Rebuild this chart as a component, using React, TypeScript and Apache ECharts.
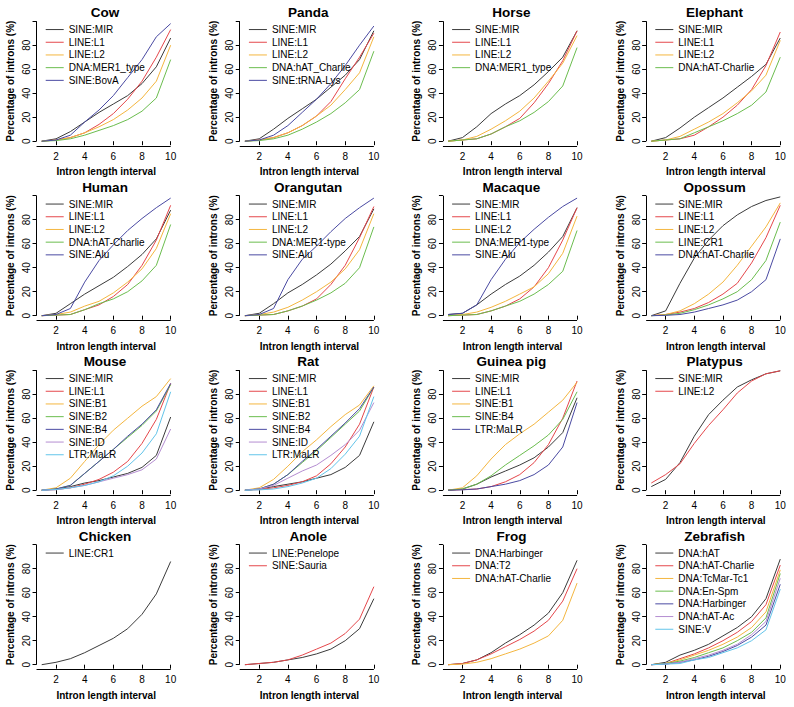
import { useEffect, useRef } from "react";
import * as echarts from "echarts";

// ---------- data ----------
const intervals = [1, 2, 3, 4, 5, 6, 7, 8, 9, 10];
const xTicks = [2, 4, 6, 8, 10];
const yTicks = [0, 20, 40, 60, 80, 100];
const yTickLabels = [0, 20, 40, 60, 80];

const cowNames = ["SINE:MIR", "LINE:L1", "LINE:L2", "DNA:MER1_type", "SINE:BovA"];
const cowValues = [
  [0, 2, 8, 16, 24, 31, 38, 48, 62, 86],
  [0, 1, 3, 7, 14, 23, 35, 50, 70, 93],
  [0, 1, 3, 7, 12, 18, 26, 36, 50, 80],
  [0, 0.5, 2, 5, 9, 13, 18, 25, 36, 68],
  [0, 1, 5, 16, 26, 38, 53, 68, 87, 98],
];

const pandaNames = ["SINE:MIR", "LINE:L1", "LINE:L2", "DNA:hAT_Charlie", "SINE:tRNA-Lys"];
const pandaValues = [
  [0, 2, 10, 19, 27, 35, 45, 55, 68, 92],
  [0, 1, 3, 7, 13, 21, 33, 52, 70, 90],
  [0, 1, 3, 7, 13, 21, 30, 43, 57, 87],
  [0, 0.5, 2, 5, 10, 16, 23, 32, 43, 75],
  [0, 1, 5, 13, 24, 35, 48, 63, 80, 96],
];

const horseNames = ["SINE:MIR", "LINE:L1", "LINE:L2", "DNA:MER1_type"];
const horseValues = [
  [0, 3, 12, 23, 31, 38, 47, 58, 70, 92],
  [0, 1, 2, 6, 12, 19, 32, 48, 67, 92],
  [0, 1, 4, 10, 17, 25, 36, 50, 65, 88],
  [0, 1, 2, 6, 12, 17, 24, 33, 46, 78],
];

const elephantNames = ["SINE:MIR", "LINE:L1", "LINE:L2", "DNA:hAT-Charlie"];
const elephantValues = [
  [0, 3, 11, 20, 28, 36, 45, 54, 64, 86],
  [0, 1, 2, 5, 12, 20, 30, 43, 63, 91],
  [0, 1, 4, 10, 16, 23, 32, 42, 55, 84],
  [0, 1, 2, 7, 12, 17, 23, 30, 41, 70],
];

const humanNames = ["SINE:MIR", "LINE:L1", "LINE:L2", "DNA:hAT-Charlie", "SINE:Alu"];
const humanValues = [
  [0, 2, 10, 18, 25, 32, 41, 51, 64, 88],
  [0, 0.5, 1, 5, 9, 16, 26, 42, 63, 92],
  [0, 1, 3, 8, 12, 19, 28, 39, 56, 85],
  [0, 0.5, 1, 5, 10, 14, 20, 29, 42, 76],
  [0, 1, 6, 28, 46, 59, 71, 81, 90, 98],
];

const orangutanNames = ["SINE:MIR", "LINE:L1", "LINE:L2", "DNA:MER1-type", "SINE:Alu"];
const orangutanValues = [
  [0, 2, 10, 19, 26, 34, 43, 54, 66, 89],
  [0, 0.5, 1, 4, 8, 14, 26, 42, 65, 91],
  [0, 1, 3, 7, 13, 20, 28, 39, 55, 85],
  [0, 0.5, 1, 4, 8, 13, 19, 27, 40, 74],
  [0, 1, 6, 30, 47, 58, 70, 81, 90, 98],
];

const macaqueNames = ["SINE:MIR", "LINE:L1", "LINE:L2", "DNA:MER1-type", "SINE:Alu"];
const macaqueValues = [
  [1, 2, 9, 18, 26, 33, 42, 53, 66, 90],
  [0, 0.5, 1, 4, 8, 14, 24, 40, 63, 90],
  [0, 1, 3, 7, 12, 18, 24, 35, 52, 83],
  [0, 0.5, 1, 4, 8, 12, 18, 26, 37, 71],
  [1, 2, 9, 30, 47, 61, 72, 82, 91, 98],
];

const opossumNames = ["SINE:MIR", "LINE:L1", "LINE:L2", "LINE:CR1", "DNA:hAT-Charlie"];
const opossumValues = [
  [0, 4, 27, 48, 63, 75, 84, 91, 96, 99],
  [0, 1, 3, 6, 11, 18, 27, 44, 65, 92],
  [0, 1, 4, 10, 18, 28, 42, 58, 74, 94],
  [0, 0.5, 2, 5, 9, 14, 20, 30, 46, 78],
  [0, 0.3, 1, 3, 6, 9, 13, 20, 30, 64],
];

const mouseNames = ["SINE:MIR", "LINE:L1", "SINE:B1", "SINE:B2", "SINE:B4", "SINE:ID", "LTR:MaLR"];
const mouseValues = [
  [0, 1, 3, 6, 8, 11, 14, 19, 29, 61],
  [0, 0.5, 2, 5, 9, 15, 24, 39, 59, 89],
  [0, 2, 10, 24, 38, 50, 60, 70, 78, 93],
  [0, 1, 4, 14, 24, 34, 44, 54, 66, 88],
  [0, 1, 4, 14, 24, 34, 45, 55, 67, 89],
  [0, 0.5, 2, 4, 7, 10, 13, 17, 26, 51],
  [0, 0.5, 2, 4, 7, 12, 20, 31, 47, 82],
];

const ratNames = ["SINE:MIR", "LINE:L1", "SINE:B1", "SINE:B2", "SINE:B4", "SINE:ID", "LTR:MaLR"];
const ratValues = [
  [0, 1, 3, 5, 7, 10, 13, 19, 29, 57],
  [0, 0.5, 2, 4, 7, 12, 22, 36, 55, 86],
  [0, 2, 9, 20, 32, 42, 53, 63, 71, 87],
  [0, 1, 5, 13, 23, 33, 44, 55, 66, 86],
  [0, 1, 5, 13, 24, 34, 45, 56, 68, 86],
  [0, 1, 4, 10, 16, 21, 29, 38, 50, 73],
  [0, 0.3, 1, 3, 6, 10, 18, 30, 45, 78],
];

const guineaPigNames = ["SINE:MIR", "LINE:L1", "SINE:B1", "SINE:B4", "LTR:MaLR"];
const guineaPigValues = [
  [0, 1, 5, 11, 16, 21, 27, 36, 48, 77],
  [0, 0.5, 1, 3, 7, 13, 23, 38, 60, 91],
  [0, 2, 12, 26, 38, 47, 55, 65, 75, 90],
  [0, 1, 5, 12, 21, 29, 37, 46, 59, 82],
  [0, 0.3, 1, 3, 5, 8, 13, 21, 36, 73],
];

const platypusNames = ["SINE:MIR", "LINE:L2"];
const platypusValues = [
  [3, 9, 23, 45, 63, 75, 86, 92, 97, 99.5],
  [6, 13, 22, 39, 54, 67, 81, 91, 97, 99.5],
];

const chickenNames = ["LINE:CR1"];
const chickenValues = [[0, 2, 5, 10, 16, 22, 30, 42, 59, 86]];

const anoleNames = ["LINE:Penelope", "SINE:Sauria"];
const anoleValues = [
  [0, 1, 2, 4, 6, 9, 13, 20, 30, 55],
  [0, 1, 2, 4, 8, 13, 18, 26, 38, 65],
];

const frogNames = ["DNA:Harbinger", "DNA:T2", "DNA:hAT-Charlie"];
const frogValues = [
  [0, 1, 4, 10, 18, 25, 33, 43, 60, 87],
  [0, 1, 4, 9, 15, 21, 28, 37, 53, 80],
  [0, 0.5, 2, 5, 9, 13, 18, 24, 37, 68],
];

const zebrafishNames = [
  "DNA:hAT", "DNA:hAT-Charlie", "DNA:TcMar-Tc1", "DNA:En-Spm", "DNA:Harbinger", "DNA:hAT-Ac", "SINE:V",
];
const zebrafishValues = [
  [0, 2, 8, 12, 17, 24, 31, 40, 55, 88],
  [0, 1, 5, 9, 14, 20, 27, 36, 50, 83],
  [0, 1, 4, 8, 12, 17, 23, 31, 44, 79],
  [0, 1, 3, 6, 10, 14, 20, 27, 39, 76],
  [0, 0.5, 2, 4, 7, 11, 16, 23, 33, 67],
  [0, 0.5, 2, 5, 8, 12, 17, 25, 36, 72],
  [0, 0.5, 1, 4, 6, 10, 14, 20, 29, 63],
];

const panelTitles = [
  "Cow", "Panda", "Horse", "Elephant",
  "Human", "Orangutan", "Macaque", "Opossum",
  "Mouse", "Rat", "Guinea pig", "Platypus",
  "Chicken", "Anole", "Frog", "Zebrafish",
];
const panelNames = [
  cowNames, pandaNames, horseNames, elephantNames,
  humanNames, orangutanNames, macaqueNames, opossumNames,
  mouseNames, ratNames, guineaPigNames, platypusNames,
  chickenNames, anoleNames, frogNames, zebrafishNames,
];
const panelValues = [
  cowValues, pandaValues, horseValues, elephantValues,
  humanValues, orangutanValues, macaqueValues, opossumValues,
  mouseValues, ratValues, guineaPigValues, platypusValues,
  chickenValues, anoleValues, frogValues, zebrafishValues,
];

const palette = ["#3b3b3b", "#e5474b", "#f4b63f", "#6bbd4e", "#4a4aa2", "#b48dd1", "#62c4ea"];

// ---------- layout ----------
const FONT = "'Liberation Sans', Arial, Helvetica, sans-serif";
const X1_0 = 41.7;
const COL_PITCH = 203.2;
const UNIT_W = 14.33;
const Y0_0 = 141.2;
const ROW_PITCH = 174.5;
const UNIT_H = 1.2;
const XMIN = 0.64;
const XMAX = 10.36;
const YMIN = -4;
const YMAX = 104;

function buildOption() {
  const grid: any[] = [];
  const xAxis: any[] = [];
  const yAxis: any[] = [];
  const title: any[] = [];
  const legend: any[] = [];
  const series: any[] = [];

  panelTitles.forEach((name, i) => {
    const r = Math.floor(i / 4);
    const c = i % 4;
    const x1 = X1_0 + c * COL_PITCH;
    const y0 = Y0_0 + r * ROW_PITCH;

    grid.push({
      left: x1 - (1 - XMIN) * UNIT_W,
      top: y0 - YMAX * UNIT_H,
      width: (XMAX - XMIN) * UNIT_W,
      height: (YMAX - YMIN) * UNIT_H,
      containLabel: false,
    });

    xAxis.push({
      gridIndex: i,
      type: "value",
      min: XMIN,
      max: XMAX,
      axisLine: { show: false },
      axisTick: { show: true, customValues: xTicks, length: 4, lineStyle: { color: "#000", width: 1 } },
      axisLabel: { customValues: xTicks, fontSize: 10, color: "#000", margin: 5, fontFamily: FONT },
      splitLine: { show: false },
      name: "Intron length interval",
      nameLocation: "middle",
      nameGap: 20.5,
      nameTextStyle: { fontSize: 10, fontWeight: "bold", color: "#000", fontFamily: FONT },
    });

    yAxis.push({
      gridIndex: i,
      type: "value",
      min: YMIN,
      max: YMAX,
      axisLine: { show: false },
      axisTick: { show: true, customValues: yTicks, length: 4, lineStyle: { color: "#000", width: 1 } },
      axisLabel: { customValues: yTickLabels, rotate: 90, fontSize: 10, color: "#000", margin: 5, fontFamily: FONT },
      splitLine: { show: false },
      name: "Percentage of introns (%)",
      nameLocation: "middle",
      nameGap: 21,
      nameTextStyle: { fontSize: 10, fontWeight: "bold", color: "#000", fontFamily: FONT },
    });

    title.push({
      text: name,
      left: x1 + 63.3,
      top: y0 - 136.5,
      textAlign: "center",
      padding: 0,
      textStyle: { fontSize: 13.5, fontWeight: "bold", color: "#000", fontFamily: FONT, lineHeight: 16 },
    });

    const names = panelNames[i];
    const values = panelValues[i];
    legend.push({
      orient: "vertical",
      left: x1 + 4,
      top: y0 - 118,
      padding: 0,
      itemGap: 0,
      itemWidth: 18,
      itemHeight: 1,
      icon: "rect",
      selectedMode: false,
      data: names.map((n) => `${name}|${n}`),
      formatter: (full: string) => full.slice(full.indexOf("|") + 1),
      textStyle: { fontSize: 10, color: "#000", fontFamily: FONT, lineHeight: 12.7 },
    });

    values.forEach((vals, k) => {
      const s: any = {
        type: "line",
        name: `${name}|${names[k]}`,
        xAxisIndex: i,
        yAxisIndex: i,
        data: intervals.map((x, j) => [x, vals[j]]),
        symbol: "none",
        showSymbol: false,
        clip: false,
        silent: true,
        lineStyle: { color: palette[k], width: 1 },
        itemStyle: { color: palette[k] },
        emphasis: { disabled: true },
      };
      if (k === 0) {
        s.markLine = {
          silent: true,
          symbol: ["none", "none"],
          label: { show: false },
          emphasis: { disabled: true },
          lineStyle: { color: "#000", width: 1, type: "solid" },
          data: [
            [{ coord: [XMIN, 0] }, { coord: [XMIN, 100] }],
            [{ coord: [XMIN, YMIN] }, { coord: [10, YMIN] }],
          ],
        };
      }
      series.push(s);
    });
  });

  return {
    animation: false,
    backgroundColor: "#fff",
    textStyle: { fontFamily: FONT },
    grid,
    xAxis,
    yAxis,
    title,
    legend,
    series,
  };
}

export default function App() {
  const ref = useRef<HTMLDivElement>(null);
  useEffect(() => {
    if (!ref.current) return;
    const chart = echarts.init(ref.current, null, { renderer: "svg" });
    chart.setOption(buildOption() as any);
    return () => chart.dispose();
  }, []);
  return (
    <div
      ref={ref}
      style={{ position: "absolute", left: 0, top: 0, width: 794, height: 707, background: "#fff" }}
    />
  );
}
